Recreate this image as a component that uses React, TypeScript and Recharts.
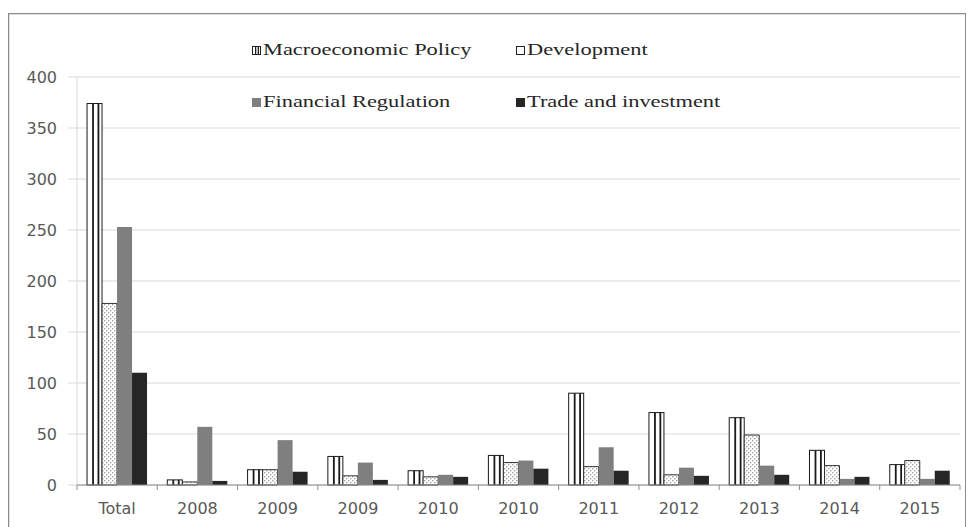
import React from "react";
import { BarChart, Bar, XAxis, YAxis, CartesianGrid, Legend } from "recharts";

const categories = ["Total", "2008", "2009", "2009", "2010", "2010", "2011", "2012", "2013", "2014", "2015"];
const macroValues = [374, 5, 15, 28, 14, 29, 90, 71, 66, 34, 20];
const devValues = [178, 3, 15, 9, 8, 22, 18, 10, 49, 19, 24];
const finValues = [253, 57, 44, 22, 10, 24, 37, 17, 19, 6, 6];
const tradeValues = [110, 4, 13, 5, 8, 16, 14, 9, 10, 8, 14];
const yTicks = [0, 50, 100, 150, 200, 250, 300, 350, 400];

const seriesNames = ["Macroeconomic Policy", "Development", "Financial Regulation", "Trade and investment"];

const data = categories.map((c, i) => ({
  slot: i,
  label: c,
  macro: macroValues[i],
  dev: devValues[i],
  fin: finValues[i],
  trade: tradeValues[i],
}));

const W = 973;
const H = 527;
const M = { top: 77, right: 13, bottom: 0, left: 0 };
const Y_W = 77;
const X_H = 42;
const plotW = W - M.left - M.right - Y_W;
const band = plotW / categories.length;

const MacroShape = (props: any) => {
  const { x, y, width, height } = props;
  if (!height || height <= 0) return null;
  return (
    <g>
      <rect x={x} y={y} width={width} height={height} fill="#ffffff" stroke="#1a1a1a" strokeWidth={1} />
      <rect x={x + width * 0.34} y={y} width={1.8} height={height} fill="#1a1a1a" />
      <rect x={x + width * 0.7} y={y} width={1.8} height={height} fill="#1a1a1a" />
    </g>
  );
};

const XTick = (props: any) => {
  const { x, y, payload, index } = props;
  const axisY = y - 18;
  const left = x - band / 2;
  return (
    <g>
      <line x1={left} y1={axisY} x2={left} y2={axisY + 5} stroke="#8c8c8c" strokeWidth={1} />
      {index === categories.length - 1 && (
        <line x1={x + band / 2} y1={axisY} x2={x + band / 2} y2={axisY + 5} stroke="#8c8c8c" strokeWidth={1} />
      )}
      <text
        x={x}
        y={y}
        dy="0.71em"
        textAnchor="middle"
        fill="#595959"
        fontSize={16}
        fontFamily="'DejaVu Sans', sans-serif"
      >
        {categories[payload.value]}
      </text>
    </g>
  );
};

const LegendIcon = ({ kind }: { kind: number }) => {
  if (kind === 0) {
    return (
      <svg width={9} height={9} style={{ display: "block" }}>
        <rect x={0.5} y={0.5} width={8} height={8} fill="#fff" stroke="#222" />
        <rect x={3} y={0.5} width={1.3} height={8} fill="#222" />
        <rect x={5.7} y={0.5} width={1.3} height={8} fill="#222" />
      </svg>
    );
  }
  const fills = ["#fff", "#fff", "#7f7f7f", "#262626"];
  const strokes = ["#222", "#222", "#7f7f7f", "#262626"];
  return (
    <svg width={9} height={9} style={{ display: "block" }}>
      <rect x={0.5} y={0.5} width={8} height={8} fill={fills[kind]} stroke={strokes[kind]} />
    </svg>
  );
};

const LegendContent = () => (
  <div
    style={{
      display: "grid",
      gridTemplateColumns: "264px 264px",
      gridAutoRows: "52px",
      fontFamily: "'Liberation Serif', 'Times New Roman', serif",
      fontSize: 16,
      color: "#262626",
    }}
  >
    {seriesNames.map((n, i) => (
      <div key={n} style={{ display: "flex", alignItems: "center", height: 52 }}>
        <LegendIcon kind={i} />
        <span
          style={{
            display: "inline-block",
            marginLeft: 2,
            transform: "scaleX(1.4)",
            transformOrigin: "left center",
            whiteSpace: "nowrap",
          }}
        >
          {n}
        </span>
      </div>
    ))}
  </div>
);

export default function App() {
  return (
    <div style={{ position: "absolute", left: 0, top: 0, width: W, height: H, overflow: "hidden", background: "#fff" }}>
      <div
        style={{
          position: "absolute",
          left: 8,
          top: 13,
          width: 958,
          height: 600,
          border: "1px solid #8a8a8a",
          boxShadow: "inset 1px 1px 0 #e0e0e0",
          boxSizing: "border-box",
        }}
      />
      <div style={{ position: "absolute", left: 0, top: 0 }}>
        <BarChart width={W} height={H} data={data} margin={M} barCategoryGap="12.5%" barGap={0}>
          <defs>
            <pattern id="devDots" width="4" height="4" patternUnits="userSpaceOnUse">
              <rect width="4" height="4" fill="#ffffff" />
              <rect x="0" y="0" width="1.4" height="1.4" fill="#a6a6a6" />
              <rect x="2" y="2" width="1.4" height="1.4" fill="#a6a6a6" />
            </pattern>
          </defs>
          <CartesianGrid vertical={false} stroke="#d9d9d9" strokeWidth={1} />
          <XAxis
            dataKey="slot"
            type="category"
            height={X_H}
            axisLine={{ stroke: "#8c8c8c", strokeWidth: 1 }}
            tickLine={false}
            tickSize={5}
            tickMargin={13}
            interval={0}
            tick={<XTick />}
          />
          <YAxis
            width={Y_W}
            domain={[0, 400]}
            ticks={yTicks}
            interval={0}
            axisLine={{ stroke: "#d9d9d9" }}
            tickLine={{ stroke: "#d9d9d9" }}
            tickSize={9}
            tickMargin={11}
            tick={{ fill: "#595959", fontSize: 16, fontFamily: "'DejaVu Sans', sans-serif" }}
          />
          <Legend
            layout="horizontal"
            verticalAlign="middle"
            align="center"
            content={<LegendContent />}
            wrapperStyle={{ top: 24, left: 252, width: 540, height: 104 }}
          />
          <Bar dataKey="macro" name={seriesNames[0]} shape={<MacroShape />} isAnimationActive={false} />
          <Bar dataKey="dev" name={seriesNames[1]} fill="url(#devDots)" stroke="#333333" strokeWidth={1} isAnimationActive={false} />
          <Bar dataKey="fin" name={seriesNames[2]} fill="#7f7f7f" isAnimationActive={false} />
          <Bar dataKey="trade" name={seriesNames[3]} fill="#262626" isAnimationActive={false} />
        </BarChart>
      </div>
    </div>
  );
}
